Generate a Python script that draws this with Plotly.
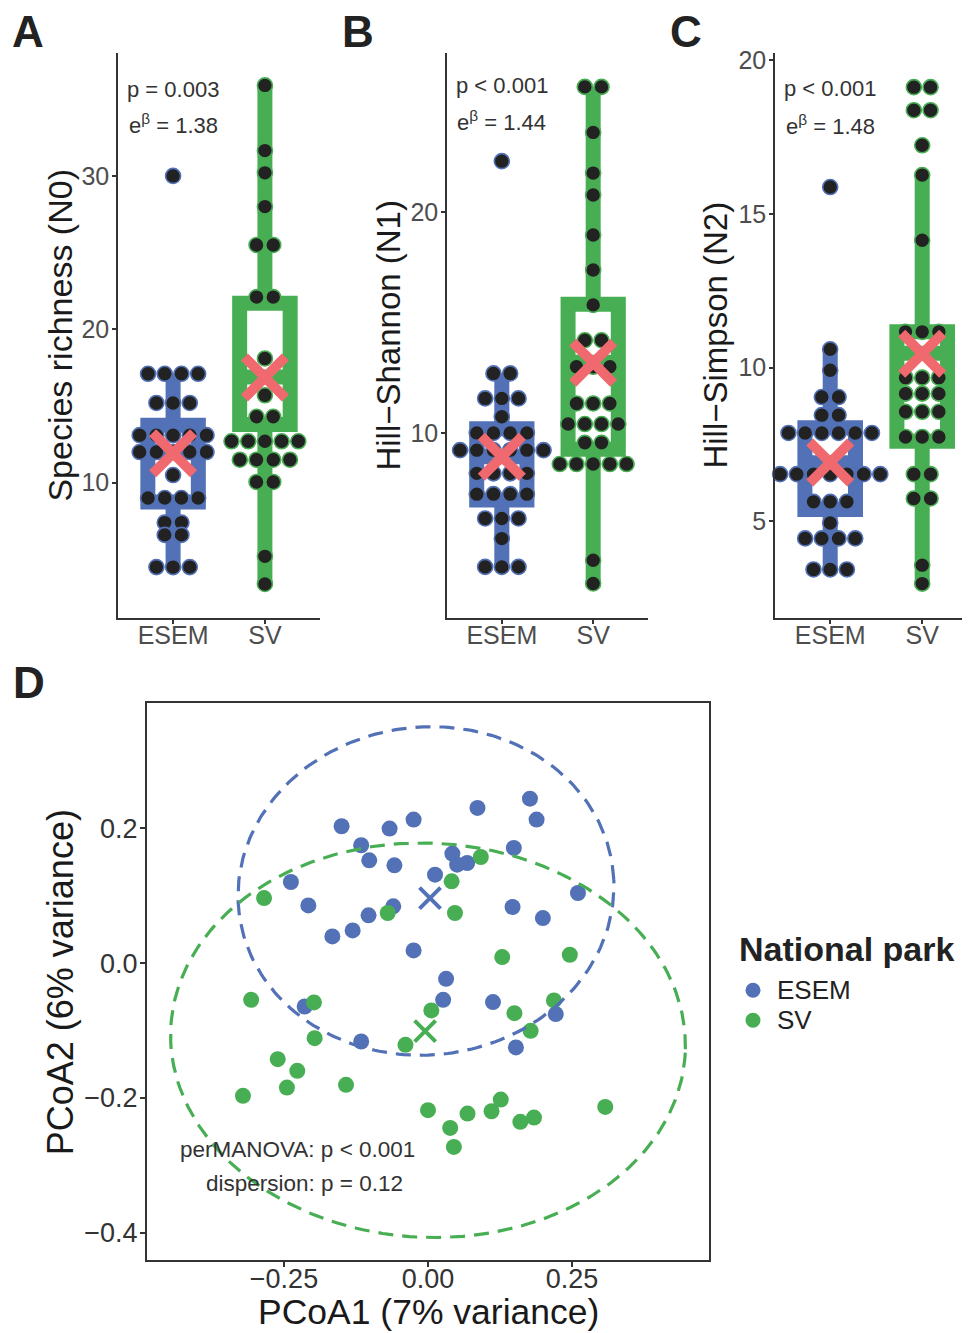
import numpy as np
import plotly.graph_objects as go

# page has an 8px body margin: build the figure in page pixel coordinates
OFF = 8
W, H = 970 - OFF, 1333 - OFF
FONT = "Liberation Sans, Arial, Helvetica, sans-serif"
BLUE = "#5271B6"
GREEN = "#48AE53"
MEANC = "#F0696E"
DOT = "#222222"
AX = "#333333"

groups = ["ESEM", "SV"]

# ---------------- Panel A : species richness (N0) ----------------
A_ESEM = [30.0, 17.1, 17.1, 17.1, 17.1, 15.2, 15.2, 15.2,
          13.1, 13.1, 13.1, 13.1, 13.1, 12.0, 12.0, 12.0, 12.0, 12.0,
          10.5, 9.0, 9.0, 9.0, 9.0, 7.4, 7.4, 6.6, 6.6, 4.5, 4.5, 4.5]
A_SV = [35.9, 31.65, 30.2, 28.0, 25.5, 25.5, 22.1, 22.1, 18.1, 15.7,
        14.3, 14.3, 12.7, 12.7, 12.7, 12.7, 12.7, 11.5, 11.5, 11.5, 11.5,
        10.05, 10.05, 5.2, 3.4]
# box statistics: [ESEM, SV]
A_q1 = [8.74, 13.8]
A_med = [12.0, 16.9]
A_q3 = [13.75, 21.7]
A_lo = [4.5, 3.4]
A_hi = [17.1, 35.9]

# ---------------- Panel B : Hill-Shannon (N1) ----------------
B_ESEM = [22.3, 12.7, 12.7, 11.57, 11.57, 11.57, 10.74,
          10.01, 10.01, 10.01, 10.01, 9.23, 9.23, 9.23, 9.23, 9.23, 9.23,
          8.18, 8.18, 8.18, 8.18, 7.24, 7.24, 7.24, 7.24,
          6.14, 6.14, 6.14, 5.23, 3.95, 3.95, 3.95]
B_SV = [25.66, 25.66, 23.6, 21.76, 20.77, 18.96, 17.38, 15.8,
        14.2, 14.2, 13.0, 13.0, 13.0, 11.34, 11.34, 11.34,
        10.41, 10.41, 10.41, 10.41, 9.56, 9.56,
        8.6, 8.6, 8.6, 8.6, 8.6, 4.25, 3.2]
B_q1 = [6.98, 9.27]
B_med = [8.93, 13.2]
B_q3 = [10.2, 15.83]
B_lo = [3.95, 3.2]
B_hi = [12.7, 25.66]

# ---------------- Panel C : Hill-Simpson (N2) ----------------
C_ESEM = [15.87, 10.59, 9.91, 9.04, 9.04, 8.45, 8.45,
          7.87, 7.87, 7.87, 7.87, 7.87, 7.87,
          6.53, 6.53, 6.53, 6.53, 6.53, 6.53, 6.53,
          5.63, 5.63, 5.63, 4.94, 4.44, 4.44, 4.44, 4.44, 3.43, 3.43, 3.43]
C_SV = [19.12, 19.12, 18.37, 18.37, 17.23, 16.26, 14.14,
        11.16, 11.16, 11.16, 9.67, 9.67, 9.67, 9.15, 9.15, 9.15,
        8.56, 8.56, 8.56, 7.74, 7.74, 7.74, 6.53, 6.53, 5.74, 5.74, 3.57, 2.97]
C_q1 = [5.38, 7.6]
C_med = [6.9, 10.46]
C_q3 = [8.04, 11.16]
C_lo = [3.43, 2.97]
C_hi = [10.59, 16.26]

stats_text = {
    "A": ["p = 0.003", "e<sup>β</sup> = 1.38"],
    "B": ["p < 0.001", "e<sup>β</sup> = 1.44"],
    "C": ["p < 0.001", "e<sup>β</sup> = 1.48"],
}
y_titles = {"A": "Species richness (N0)", "B": "Hill−Shannon (N1)", "C": "Hill−Simpson (N2)"}
y_ticks = {"A": [10, 20, 30], "B": [10, 20], "C": [5, 10, 15, 20]}

# ---------------- Panel D : PCoA ----------------
esem_x = [-0.150, -0.0667, -0.025, 0.0859, 0.177, 0.1885, -0.116, -0.102, -0.0583,
          0.0423, 0.0506, 0.068, 0.149, 0.0122, -0.238, -0.2077, -0.0603, -0.1032,
          -0.1308, -0.166, 0.1468, 0.1994, 0.2603, -0.025, 0.0314, 0.0263, 0.1128,
          -0.2141, 0.2218, -0.116, 0.1526]
esem_y = [0.203, 0.1995, 0.2129, 0.2302, 0.244, 0.2129, 0.1748, 0.1525, 0.145,
          0.1624, 0.146, 0.1485, 0.1708, 0.1312, 0.1203, 0.0856, 0.0842, 0.0708,
          0.0485, 0.0396, 0.0832, 0.0668, 0.104, 0.0188, -0.0233, -0.0545, -0.0579,
          -0.0644, -0.0757, -0.1163, -0.1252]
sv_x = [-0.2846, 0.0917, 0.041, 0.0468, -0.0699, 0.1288, 0.2462, -0.307, -0.198,
        0.0058, 0.15, 0.2186, -0.1968, -0.0391, 0.1782, -0.2609, -0.2269, -0.2449,
        -0.3212, -0.1423, 0.0, 0.0385, 0.0449, 0.0686, 0.1103, 0.1263, 0.1603,
        0.184, 0.3077]
sv_y = [0.0965, 0.1574, 0.1213, 0.0743, 0.0743, 0.0089, 0.0124, -0.0545, -0.0584,
        -0.0703, -0.0743, -0.0554, -0.1114, -0.1213, -0.1005, -0.1426, -0.1599,
        -0.1847, -0.197, -0.1807, -0.2183, -0.2446, -0.2728, -0.2233, -0.2198,
        -0.2025, -0.2356, -0.2292, -0.2134]
centroid_x = [0.0035, -0.005]
centroid_y = [0.0965, -0.101]
# ellipse parameters [ESEM, SV]: centre, semi-axes, rotation (rad)
ell_cx = [-0.0035, 0.0]
ell_cy = [0.107, -0.1145]
ell_a = [0.3265, 0.447]
ell_b = [0.2435, 0.2925]
ell_ang = [0.05, -0.03]
perm_text = ["perMANOVA: p < 0.001", "dispersion: p = 0.12"]
legend_title = "National park"


def px_x(p):
    return (p - OFF) / W


def px_y(p):
    # small empirical vertical correction of the rendered page
    q = (p - 7.0) / 0.9945
    return 1 - (q - OFF) / H


fig = go.Figure()
cols = [BLUE, GREEN]

panels = [
    dict(k="A", n="", xd=(118, 320), xr=(0.4, 2.6), yr=(1.17, 38.01),
         data=[A_ESEM, A_SV], q1=A_q1, med=A_med, q3=A_q3, lo=A_lo, hi=A_hi,
         ty=(89, 124), title_x=60, tsize=34),
    dict(k="B", n="2", xd=(447, 648), xr=(0.4, 2.6), yr=(1.63, 27.19),
         data=[B_ESEM, B_SV], q1=B_q1, med=B_med, q3=B_q3, lo=B_lo, hi=B_hi,
         ty=(85, 121), title_x=389, tsize=33),
    dict(k="C", n="3", xd=(775, 970), xr=(0.4, 0.4 + 195 / 92.0), yr=(1.845, 20.23),
         data=[C_ESEM, C_SV], q1=C_q1, med=C_med, q3=C_q3, lo=C_lo, hi=C_hi,
         ty=(88, 125), title_x=716, tsize=33),
]

TOP, BOT = 53, 618
annotations = []
shapes = []
layout_axes = {}
DOT_PX = 16.7

for p in panels:
    xa = "x" + p["n"]
    ya = "y" + p["n"]
    px_per_unit = (p["xd"][1] - p["xd"][0]) / (p["xr"][1] - p["xr"][0])
    step = DOT_PX / px_per_unit
    for gi, vals in enumerate(p["data"]):
        pos = gi + 1
        col = cols[gi]
        fig.add_trace(go.Box(
            x=[pos], q1=[p["q1"][gi]], median=[p["med"][gi]], q3=[p["q3"][gi]],
            lowerfence=[p["lo"][gi]], upperfence=[p["hi"][gi]],
            width=0.55, whiskerwidth=0, boxpoints=False,
            line=dict(color=col, width=15), fillcolor="white",
            xaxis=xa, yaxis=ya, showlegend=False, hoverinfo="skip"))
        # dot-plot stacking
        xs, ys = [], []
        seen = []
        for v in vals:
            if v not in seen:
                seen.append(v)
        for v in seen:
            nrow = vals.count(v)
            for i in range(nrow):
                xs.append(pos + (i - (nrow - 1) / 2.0) * step)
                ys.append(v)
        fig.add_trace(go.Scatter(
            x=xs, y=ys, mode="markers",
            marker=dict(size=15, color=DOT, line=dict(color=col, width=1.6)),
            xaxis=xa, yaxis=ya, showlegend=False, hoverinfo="skip", cliponaxis=False))
        fig.add_trace(go.Scatter(
            x=[pos], y=[float(np.mean(vals))], mode="markers",
            marker=dict(symbol="x-thin", size=41, color=MEANC,
                        line=dict(color=MEANC, width=10)),
            xaxis=xa, yaxis=ya, showlegend=False, hoverinfo="skip", cliponaxis=False))

    layout_axes["xaxis" + p["n"]] = dict(
        domain=[px_x(p["xd"][0]), min(1.0, px_x(p["xd"][1]))], range=list(p["xr"]),
        anchor=ya, tickvals=[1, 2], ticktext=groups,
        showline=True, linecolor=AX, linewidth=1.6, ticks="outside", ticklen=4,
        tickwidth=1.6, tickcolor=AX, tickfont=dict(size=25, color="#4D4D4D"),
        ticklabelstandoff=-10,
        showgrid=False, zeroline=False, fixedrange=True)
    layout_axes["yaxis" + p["n"]] = dict(
        domain=[px_y(BOT), px_y(TOP)], range=list(p["yr"]), anchor=xa,
        tickvals=y_ticks[p["k"]], ticktext=[str(t) for t in y_ticks[p["k"]]],
        showline=True, linecolor=AX, linewidth=1.6, ticks="outside", ticklen=4,
        tickwidth=1.6, tickcolor=AX, tickfont=dict(size=25, color="#4D4D4D"),
        ticklabelstandoff=-2,
        showgrid=False, zeroline=False, fixedrange=True)
    for li, txt in enumerate(stats_text[p["k"]]):
        annotations.append(dict(
            text=txt, x=1, xref=xa, y=px_y(p["ty"][li]), yref="paper",
            xanchor="center", yanchor="middle", showarrow=False,
            font=dict(size=22, color="#333333", family=FONT)))
    annotations.append(dict(
        text=y_titles[p["k"]], x=px_x(p["title_x"]), y=px_y((TOP + BOT) / 2),
        xref="paper", yref="paper", textangle=-90, xanchor="center", yanchor="middle",
        showarrow=False, font=dict(size=p["tsize"], color="#1a1a1a", family=FONT)))

# panel letters
for letter, (lx, ly) in {"A": (28, 31), "B": (358, 31), "C": (686, 31), "D": (29, 682)}.items():
    annotations.append(dict(
        text="<b>%s</b>" % letter, x=px_x(lx), y=px_y(ly), xref="paper", yref="paper",
        xanchor="center", yanchor="middle", showarrow=False,
        font=dict(size=44, color="#222222", family=FONT)))

# ---------------- Panel D traces ----------------
pts = [(esem_x, esem_y), (sv_x, sv_y)]
for gi in range(2):
    fig.add_trace(go.Scatter(
        x=pts[gi][0], y=pts[gi][1], mode="markers", name=groups[gi],
        marker=dict(size=16, color=cols[gi]), xaxis="x4", yaxis="y4",
        showlegend=False, hoverinfo="skip"))
t = np.linspace(0, 2 * np.pi, 241)
for gi in range(2):
    ca, sa = np.cos(ell_ang[gi]), np.sin(ell_ang[gi])
    ex = ell_cx[gi] + ell_a[gi] * np.cos(t) * ca - ell_b[gi] * np.sin(t) * sa
    ey = ell_cy[gi] + ell_a[gi] * np.cos(t) * sa + ell_b[gi] * np.sin(t) * ca
    fig.add_trace(go.Scatter(
        x=ex, y=ey, mode="lines", line=dict(color=cols[gi], width=3.2, dash="15px,9px"),
        xaxis="x4", yaxis="y4", showlegend=False, hoverinfo="skip"))
for gi in range(2):
    fig.add_trace(go.Scatter(
        x=[centroid_x[gi]], y=[centroid_y[gi]], mode="markers",
        marker=dict(symbol="x-thin", size=21, color=cols[gi], line=dict(color=cols[gi], width=4)),
        xaxis="x4", yaxis="y4", showlegend=False, hoverinfo="skip"))

D_X0, D_X1, D_Y0, D_Y1 = 147, 709, 703, 1260
layout_axes["xaxis4"] = dict(
    domain=[px_x(D_X0), px_x(D_X1)], range=[-0.4878, 0.4878], anchor="y4",
    tickvals=[-0.25, 0, 0.25], ticktext=["−0.25", "0.00", "0.25"],
    showline=True, mirror=True, linecolor=AX, linewidth=2, ticks="outside", ticklen=5,
    tickwidth=1.6, tickcolor=AX, tickfont=dict(size=27, color="#333333"),
    ticklabelstandoff=-12,
    showgrid=False, zeroline=False, fixedrange=True)
layout_axes["yaxis4"] = dict(
    domain=[px_y(D_Y1), px_y(D_Y0)], range=[-0.441, 0.3856], anchor="x4",
    tickvals=[0.2, 0.0, -0.2, -0.4], ticktext=["0.2", "0.0", "−0.2", "−0.4"],
    showline=True, mirror=True, linecolor=AX, linewidth=2, ticks="outside", ticklen=5,
    tickwidth=1.6, tickcolor=AX, tickfont=dict(size=27, color="#333333"),
    ticklabelstandoff=-3,
    showgrid=False, zeroline=False, fixedrange=True)

annotations.append(dict(
    text="PCoA1 (7% variance)", x=px_x(428), y=px_y(1312), xref="paper", yref="paper",
    xanchor="center", yanchor="middle", showarrow=False,
    font=dict(size=35.5, color="#1a1a1a", family=FONT)))
annotations.append(dict(
    text="PCoA2 (6% variance)", x=px_x(60), y=px_y(982), xref="paper", yref="paper",
    textangle=-90, xanchor="center", yanchor="middle", showarrow=False,
    font=dict(size=36, color="#1a1a1a", family=FONT)))
annotations.append(dict(
    text=perm_text[0], x=-0.2274, y=-0.276, xref="x4", yref="y4",
    xanchor="center", yanchor="middle", showarrow=False,
    font=dict(size=22.5, color="#333333", family=FONT)))
annotations.append(dict(
    text=perm_text[1], x=-0.214, y=-0.3267, xref="x4", yref="y4",
    xanchor="center", yanchor="middle", showarrow=False,
    font=dict(size=22.5, color="#333333", family=FONT)))

# legend (drawn as layout items so spacing matches the reference)
annotations.append(dict(
    text="<b>%s</b>" % legend_title, x=px_x(737), y=px_y(949), xref="paper", yref="paper",
    xanchor="left", yanchor="middle", showarrow=False,
    font=dict(size=34, color="#222222", family=FONT)))
for gi, ly in enumerate([990, 1020]):
    shapes.append(dict(type="circle", xref="paper", yref="paper",
                       x0=px_x(753 - 7.5), x1=px_x(753 + 7.5),
                       y0=px_y(ly + 7.5), y1=px_y(ly - 7.5),
                       fillcolor=cols[gi], line=dict(width=0)))
    annotations.append(dict(
        text=groups[gi], x=px_x(775), y=px_y(ly), xref="paper", yref="paper",
        xanchor="left", yanchor="middle", showarrow=False,
        font=dict(size=26, color="#222222", family=FONT)))

fig.update_layout(
    width=W, height=H, margin=dict(l=0, r=0, t=0, b=0),
    paper_bgcolor="white", plot_bgcolor="white",
    font=dict(family=FONT, color="#222222"),
    annotations=annotations, shapes=shapes,
    showlegend=False,
    **layout_axes)

fig.write_html("out.html")
